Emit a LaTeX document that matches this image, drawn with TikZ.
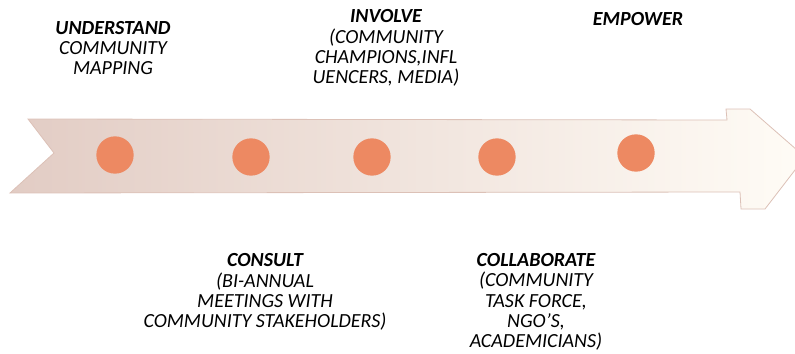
\documentclass[tikz,border=0pt]{standalone}
\usepackage{fontspec}
\setmainfont{Carlito}
\usetikzlibrary{positioning}
\definecolor{dotorange}{RGB}{237,137,98}
\definecolor{arrowleft}{RGB}{226,204,196}
\definecolor{arrowmid}{RGB}{252,228,219}
\definecolor{arrowright}{RGB}{255,252,246}
\definecolor{arrowedge}{RGB}{220,193,183}
\tikzstyle{dot} = [circle, 
minimum size=28pt, 
inner sep=0pt, 
fill=dotorange]
\tikzstyle{stage} = [align=center, 
inner sep=0pt, 
font=\fontsize{15}{15.2}\selectfont\itshape]
\tikzstyle{band} = [draw=arrowedge, 
line width=0.6pt, 
left color=arrowleft, 
middle color=arrowmid, 
right color=arrowright]

\begin{document}
\begin{tikzpicture}[x=0.75pt, y=-0.75pt]
  \useasboundingbox (0,0) rectangle (795,353);

  % the arrow
  \path [band] (28,119) -- (727,120) -- (726,109) -- (750,109) -- (805,157)
    -- (765,209) -- (741,209) -- (740,192) -- (10,193) -- (54,153) -- cycle;

  \node (under) [dot] at (115,155) {};
  \node (consult) [dot] at (251,157) {};
  \node (involve) [dot] at (372,157) {};
  \node (collab) [dot] at (497,157) {};
  \node (empower) [dot] at (636,153) {};

  \node (understext) [stage] at (113,48) {\textbf{UNDERSTAND}\\COMMUNITY\\MAPPING};
  \node (involvetext) [stage] at (386,48) {\textbf{INVOLVE}\\(COMMUNITY\\CHAMPIONS,INFL\\UENCERS, MEDIA)};
  \node (empowertext) [stage] at (638,19) {\textbf{EMPOWER}};
  \node (consulttext) [stage] at (265,292) {\textbf{CONSULT}\\(BI-ANNUAL\\MEETINGS WITH\\COMMUNITY STAKEHOLDERS)};
  \node (collabtext) [stage] at (536,302) {\textbf{COLLABORATE}\\(COMMUNITY\\TASK FORCE,\\NGO'S,\\ACADEMICIANS)};

\end{tikzpicture}
\end{document}
